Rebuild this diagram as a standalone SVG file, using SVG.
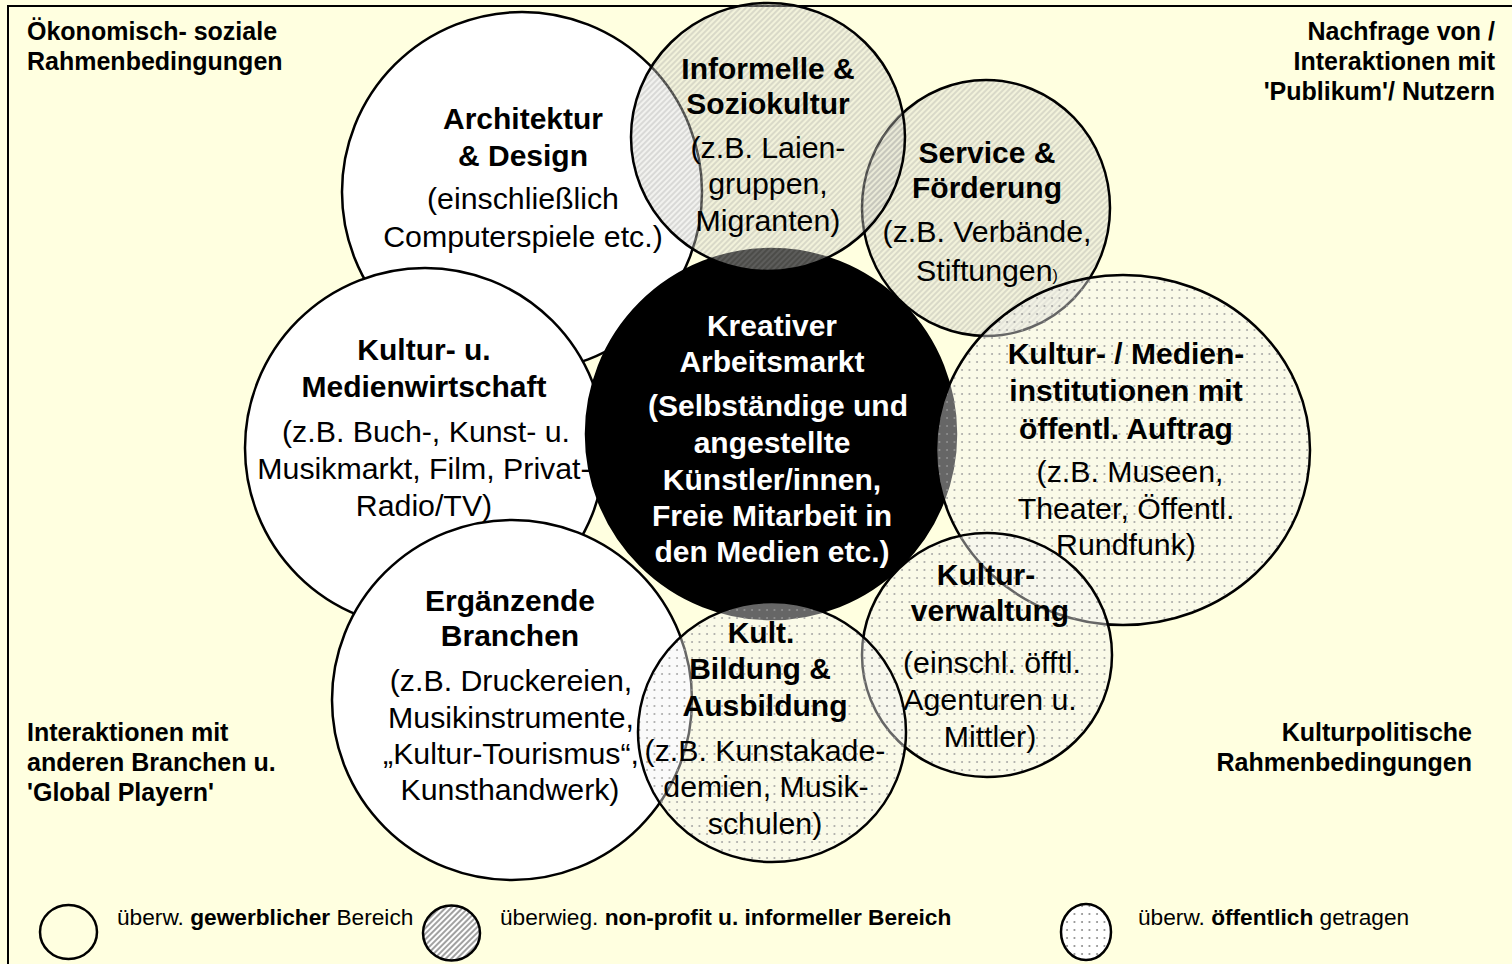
<svg xmlns="http://www.w3.org/2000/svg" width="1512" height="964" viewBox="0 0 1512 964">
<defs>
<pattern id="hatch" patternUnits="userSpaceOnUse" width="4" height="4" patternTransform="rotate(45)">
<rect width="4" height="4" fill="#d8d8d0" fill-opacity="0.35"/>
<line x1="1" y1="0" x2="1" y2="4" stroke="#909090" stroke-opacity="0.5" stroke-width="1"/>
</pattern>
<pattern id="dots" patternUnits="userSpaceOnUse" width="7.5" height="8">
<rect width="7.5" height="8" fill="#f2f2f2" fill-opacity="0.42"/>
<circle cx="2" cy="2" r="0.9" fill="#999"/>
</pattern>
<pattern id="hatchL" patternUnits="userSpaceOnUse" width="4" height="4" patternTransform="rotate(45)">
<rect width="4" height="4" fill="#ffffff"/>
<line x1="1" y1="0" x2="1" y2="4" stroke="#444" stroke-width="1"/>
</pattern>
<pattern id="dotsL" patternUnits="userSpaceOnUse" width="7.5" height="8">
<rect width="7.5" height="8" fill="#ffffff"/>
<circle cx="2" cy="2" r="0.9" fill="#777"/>
</pattern>
</defs>
<style>
.bg{fill:#ffffe0}
.frame{stroke:#000;stroke-width:2;fill:none}
.c{stroke:#000;stroke-width:2.5}
.w{fill:#fff}
.h{fill:url(#hatch)}
.d{fill:url(#dots)}
text{font-family:"Liberation Sans",Arial,sans-serif;fill:#000}
.t{font-size:30.3px;text-anchor:middle}
.b{font-weight:bold;font-size:30px}
.wt{fill:#fff}
.corner{font-size:25px;font-weight:bold}
.r{text-anchor:end}
.lg{font-size:22.7px}
</style>
<rect class="bg" x="0" y="0" width="1512" height="964"/>
<g id="frame">
<path class="frame" d="M8 964 V6 H1512"/>
</g>
<g id="corner-labels">
<text class="corner" x="27" y="40">Ökonomisch- soziale</text>
<text class="corner" x="27" y="70">Rahmenbedingungen</text>
<text class="corner r" x="1495" y="40">Nachfrage von /</text>
<text class="corner r" x="1495" y="70">Interaktionen mit</text>
<text class="corner r" x="1495" y="100">'Publikum'/ Nutzern</text>
<text class="corner" x="27" y="741">Interaktionen mit</text>
<text class="corner" x="27" y="771">anderen Branchen u.</text>
<text class="corner" x="27" y="801">'Global Playern'</text>
<text class="corner r" x="1472" y="741">Kulturpolitische</text>
<text class="corner r" x="1472" y="771">Rahmenbedingungen</text>
</g>
<g id="circles">
<circle id="c-architektur" class="c w" cx="522" cy="192" r="180"/>
<circle id="c-kmw" class="c w" cx="425" cy="448" r="180"/>
<circle id="c-ergaenzende" class="c w" cx="512" cy="700" r="180"/>
<circle id="c-kreativ" class="c" fill="#000" cx="771" cy="434" r="185"/>
<ellipse id="c-service" class="c h" cx="986" cy="208" rx="124" ry="128"/>
<ellipse id="c-informelle" class="c h" cx="768" cy="137" rx="137" ry="134"/>
<ellipse id="c-kmi" class="c d" cx="1123" cy="450" rx="187" ry="175"/>
<ellipse id="c-verwaltung" class="c d" cx="987" cy="655" rx="125" ry="122"/>
<ellipse id="c-bildung" class="c d" cx="772" cy="732" rx="134" ry="130"/>
</g>
<g id="node-architektur">
<text class="t b" x="523" y="129">Architektur</text>
<text class="t b" x="523" y="166">&amp; Design</text>
<text class="t" x="523" y="209">(einschließlich</text>
<text class="t" x="523" y="247">Computerspiele etc.)</text>
</g>
<g id="node-kmw">
<text class="t b" x="424" y="360">Kultur- u.</text>
<text class="t b" x="424" y="397">Medienwirtschaft</text>
<text class="t" x="426" y="442">(z.B. Buch-, Kunst- u.</text>
<text class="t" x="424" y="479">Musikmarkt, Film, Privat-</text>
<text class="t" x="424" y="516">Radio/TV)</text>
</g>
<g id="node-ergaenzende">
<text class="t b" x="510" y="611">Ergänzende</text>
<text class="t b" x="510" y="646">Branchen</text>
<text class="t" x="511" y="691">(z.B. Druckereien,</text>
<text class="t" x="511" y="728">Musikinstrumente,</text>
<text class="t" x="511" y="764">„Kultur-Tourismus“,</text>
<text class="t" x="510" y="800">Kunsthandwerk)</text>
</g>
<g id="node-kreativ">
<text class="t b wt" x="772" y="336">Kreativer</text>
<text class="t b wt" x="772" y="372">Arbeitsmarkt</text>
<text class="t b wt" x="778" y="416">(Selbständige und</text>
<text class="t b wt" x="772" y="453">angestellte</text>
<text class="t b wt" x="772" y="490">Künstler/innen,</text>
<text class="t b wt" x="772" y="526">Freie Mitarbeit in</text>
<text class="t b wt" x="772" y="562">den Medien etc.)</text>
</g>
<g id="node-informelle">
<text class="t b" x="768" y="79">Informelle &amp;</text>
<text class="t b" x="768" y="114">Soziokultur</text>
<text class="t" x="768" y="158">(z.B. Laien-</text>
<text class="t" x="768" y="194">gruppen,</text>
<text class="t" x="768" y="231">Migranten)</text>
</g>
<g id="node-service">
<text class="t b" x="987" y="163">Service &amp;</text>
<text class="t b" x="987" y="198">Förderung</text>
<text class="t" x="987" y="242">(z.B. Verbände,</text>
<text class="t" x="987" y="281">Stiftungen<tspan font-size="16">)</tspan></text>
</g>
<g id="node-kmi">
<text class="t b" x="1126" y="364">Kultur- / Medien-</text>
<text class="t b" x="1126" y="401">institutionen mit</text>
<text class="t b" x="1126" y="439">öffentl. Auftrag</text>
<text class="t" x="1130" y="482">(z.B. Museen,</text>
<text class="t" x="1126" y="519">Theater, Öffentl.</text>
<text class="t" x="1126" y="555">Rundfunk)</text>
</g>
<g id="node-verwaltung">
<text class="t b" x="986" y="585">Kultur-</text>
<text class="t b" x="990" y="621">verwaltung</text>
<text class="t" x="992" y="673">(einschl. öfftl.</text>
<text class="t" x="990" y="710">Agenturen u.</text>
<text class="t" x="990" y="747">Mittler)</text>
</g>
<g id="node-bildung">
<text class="t b" x="761" y="643">Kult.</text>
<text class="t b" x="760" y="679">Bildung &amp;</text>
<text class="t b" x="765" y="716">Ausbildung</text>
<text class="t" x="765" y="761">(z.B. Kunstakade-</text>
<text class="t" x="766" y="797">demien, Musik-</text>
<text class="t" x="765" y="834">schulen)</text>
</g>
<g id="legend">
<ellipse class="c" fill="none" stroke-width="2" cx="68.5" cy="932" rx="28.5" ry="27"/>
<text class="lg" x="117" y="925">überw. <tspan font-weight="bold">gewerblicher</tspan> Bereich</text>
<ellipse class="c" fill="url(#hatchL)" stroke-width="2" cx="451.5" cy="933" rx="28.5" ry="27.5"/>
<text class="lg" x="500" y="925">überwieg. <tspan font-weight="bold">non-profit u. informeller Bereich</tspan></text>
<ellipse class="c" fill="url(#dotsL)" stroke-width="2" cx="1086" cy="932" rx="25" ry="28"/>
<text class="lg" x="1138" y="925">überw. <tspan font-weight="bold">öffentlich</tspan> getragen</text>
</g>
</svg>
